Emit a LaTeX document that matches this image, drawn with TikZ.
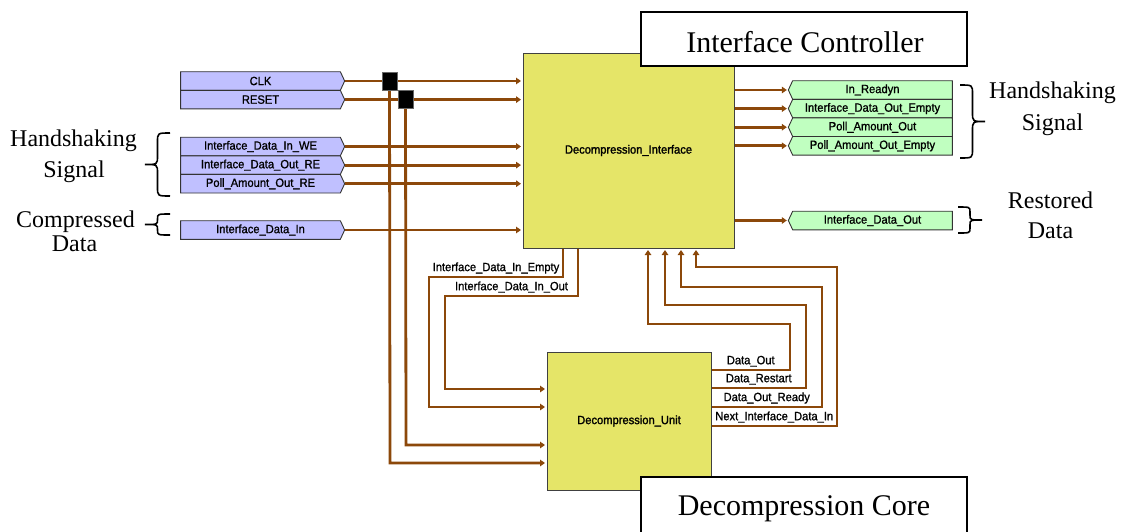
\documentclass[tikz,border=0pt]{standalone}
\usepackage{fontspec}
\setmainfont{Liberation Serif}
\newfontfamily\pinfont[FakeStretch=0.93,FakeBold=1]{Liberation Sans}
\newfontfamily\blockfont[FakeStretch=0.93,FakeBold=1.6]{Liberation Sans}
\usetikzlibrary{arrows.meta,shapes.symbols}

\definecolor{wirebrown}{RGB}{140,72,10}
\definecolor{pinblue}{RGB}{192,192,255}
\definecolor{pingreen}{RGB}{192,255,192}
\definecolor{blockyellow}{RGB}{229,229,104}

\tikzset{
  wire/.style={draw=wirebrown, line width=2.8pt},
  arr/.style={-{Triangle[length=5pt,width=6.5pt]}, shorten >=1.5pt},
  pinbase/.style={signal, signal pointer angle=130, draw=black!80, line width=0.9pt,
    minimum width=164pt, minimum height=18.6pt, inner sep=0pt, outer sep=0pt,
    font=\pinfont\fontsize{12}{14}\selectfont},
  inpin/.style={pinbase, signal to=east, signal from=nowhere, fill=pinblue},
  outpin/.style={pinbase, signal to=west, signal from=nowhere, fill=pingreen},
  block/.style={draw=black!75, fill=blockyellow, line width=1pt, inner sep=0pt,
    font=\blockfont\fontsize{12}{14}\selectfont},
  titlebox/.style={draw=black, fill=white, line width=2pt, minimum width=326pt, inner sep=0pt},
  titletext/.style={font=\fontsize{30}{32}\selectfont, inner sep=0pt},
  bracetext/.style={font=\fontsize{24}{26}\selectfont, inner sep=0pt},
  junction/.style={fill=black, draw=black!60, line width=0.6pt, minimum width=15pt,
    minimum height=18pt, inner sep=0pt},
  lab/.style={font=\pinfont\fontsize{12}{14}\selectfont, inner sep=1pt},
  bracepen/.style={draw=black, line width=1.6pt},
}

% curly brace: x of the ends, top y, bottom y, signed depth, corner radius
\newcommand\curlybrace[5]{%
  \draw[bracepen] (#1,#2) .. controls ({#1+#4/2},#2) .. ({#1+#4/2},{#2+#5})
    -- ({#1+#4/2},{(#2+#3)/2-#5}) .. controls ({#1+#4/2},{(#2+#3)/2}) .. ({#1+#4},{(#2+#3)/2})
    .. controls ({#1+#4/2},{(#2+#3)/2}) .. ({#1+#4/2},{(#2+#3)/2+#5})
    -- ({#1+#4/2},{#3-#5}) .. controls ({#1+#4/2},#3) .. (#1,#3);}

\begin{document}
\begin{tikzpicture}[x=1pt, y=-1pt]
\useasboundingbox[fill=white] (0,0) rectangle (1130,531);

% main blocks
\node[block, minimum width=211pt, minimum height=195pt] (di) at (628.5,150.5) {Decompression\_Interface};
\node[block, minimum width=164pt, minimum height=138pt] (du) at (629,421) {Decompression\_Unit};

% input pins
\node[inpin] (clk)  at (260.5,81)    {CLK};
\node[inpin] (rst)  at (260.5,99.6)  {RESET};
\node[inpin] (we)   at (260.5,146.5) {Interface\_Data\_In\_WE};
\node[inpin] (re)   at (260.5,165.1) {Interface\_Data\_Out\_RE};
\node[inpin] (pre)  at (260.5,183.7) {Poll\_Amount\_Out\_RE};
\node[inpin] (din)  at (260.5,230)   {Interface\_Data\_In};

% output pins
\node[outpin] (rdy)  at (872.5,90)    {In\_Readyn};
\node[outpin] (doe)  at (872.5,108.6) {Interface\_Data\_Out\_Empty};
\node[outpin] (pao)  at (872.5,127.2) {Poll\_Amount\_Out};
\node[outpin] (paoe) at (872.5,145.8) {Poll\_Amount\_Out\_Empty};
\node[outpin] (dout) at (872.5,220.5) {Interface\_Data\_Out};

% inputs into the interface
\foreach \p in {clk,rst,we,re,pre,din}
  \draw[wire,arr] (\p.east) -- (\p.east -| di.west);

% outputs of the interface
\foreach \p in {rdy,doe,pao,paoe,dout}
  \draw[wire,arr] (\p.west -| di.east) -- (\p.west);

% clock and reset taps down to the unit
\node[junction] (jclk) at (389.5,81) {};
\node[junction] (jrst) at (405.5,99) {};
\draw[wire,arr] (jclk.center) -- (390,463) -- (du.west |- 0,463);
\draw[wire,arr] (jrst.center) -- (406,445) -- (du.west |- 0,445);
\node[junction] at (jclk) {};
\node[junction] at (jrst) {};

% interface -> unit
\draw[wire,arr] (563,0 |- di.south) -- (563,277) -- (429,277)
  node[lab, midway, above, yshift=1pt] {Interface\_Data\_In\_Empty}
  -- (429,407) -- (du.west |- 0,407);
\draw[wire,arr] (578,0 |- di.south) -- (578,296) -- (445,296)
  node[lab, midway, above, yshift=1pt] {Interface\_Data\_In\_Out}
  -- (445,389) -- (du.west |- 0,389);

% unit -> interface
\draw[wire,arr] (du.east |- 0,370) -- (790,370)
  node[lab, midway, above, yshift=1pt] {Data\_Out}
  -- (790,324) -- (648,324) -- (648,0 |- di.south);
\draw[wire,arr] (du.east |- 0,388) -- (806,388)
  node[lab, midway, above, yshift=1pt] {Data\_Restart}
  -- (806,305) -- (665,305) -- (665,0 |- di.south);
\draw[wire,arr] (du.east |- 0,407) -- (822,407)
  node[lab, midway, above, yshift=1pt] {Data\_Out\_Ready}
  -- (822,287) -- (681,287) -- (681,0 |- di.south);
\draw[wire,arr] (du.east |- 0,426) -- (837,426)
  node[lab, midway, above, yshift=1pt] {Next\_Interface\_Data\_In}
  -- (837,267) -- (696,267) -- (696,0 |- di.south);

% titles
\node[titlebox, minimum height=54pt] (ic) at (804,39) {};
\node[titletext, anchor=base] (ictext) at (805,52) {Interface Controller};
\node[titlebox, minimum height=60pt] (dc) at (803.5,507) {};
\node[titletext, anchor=base] (dctext) at (804,515) {Decompression Core};

% braces and their captions
\curlybrace{170}{133}{196}{-25}{9}
\curlybrace{170}{214}{235}{-25}{5}
\curlybrace{960}{85}{158}{25}{9}
\curlybrace{958}{207}{233}{24}{5}

\node[bracetext, anchor=base] (lh1) at (73.5,146) {Handshaking};
\node[bracetext, anchor=base] (lh2) at (74,177) {Signal};
\node[bracetext, anchor=base] (lc1) at (75.5,227) {Compressed};
\node[bracetext, anchor=base] (lc2) at (74.5,251) {Data};
\node[bracetext, anchor=base] (rh1) at (1052.5,98) {Handshaking};
\node[bracetext, anchor=base] (rh2) at (1052.5,130) {Signal};
\node[bracetext, anchor=base] (rr1) at (1050.5,208) {Restored};
\node[bracetext, anchor=base] (rr2) at (1050.5,238) {Data};
\end{tikzpicture}
\end{document}
